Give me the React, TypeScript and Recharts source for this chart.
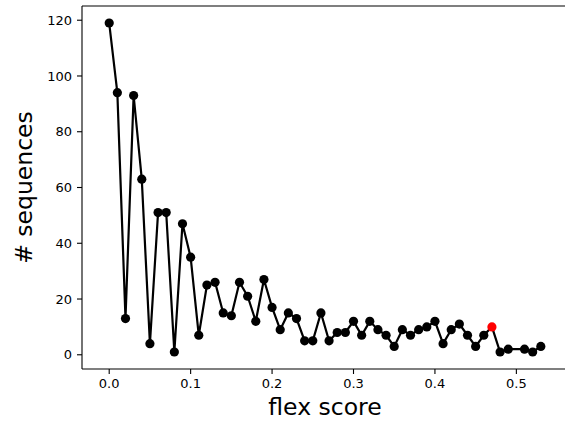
import { Label, Line, LineChart, ReferenceLine, XAxis, YAxis } from "recharts";

const flexScores = [
  0.0, 0.01, 0.02, 0.03, 0.04, 0.05, 0.06, 0.07, 0.08, 0.09, 0.1, 0.11, 0.12,
  0.13, 0.14, 0.15, 0.16, 0.17, 0.18, 0.19, 0.2, 0.21, 0.22, 0.23, 0.24, 0.25,
  0.26, 0.27, 0.28, 0.29, 0.3, 0.31, 0.32, 0.33, 0.34, 0.35, 0.36, 0.37, 0.38,
  0.39, 0.4, 0.41, 0.42, 0.43, 0.44, 0.45, 0.46, 0.47, 0.48, 0.49, 0.51, 0.52,
  0.53,
];
const sequenceCounts = [
  119, 94, 13, 93, 63, 4, 51, 51, 1, 47, 35, 7, 25, 26, 15, 14, 26, 21, 12, 27,
  17, 9, 15, 13, 5, 5, 15, 5, 8, 8, 12, 7, 12, 9, 7, 3, 9, 7, 9, 10, 12, 4, 9,
  11, 7, 3, 7, 10, 1, 2, 2, 1, 3,
];
const highlightedScore = 0.47;
const xTicks = [0, 0.1, 0.2, 0.3, 0.4, 0.5];
const yTicks = [0, 20, 40, 60, 80, 100, 120];

const data = flexScores.map((x, i) => ({ x, count: sequenceCounts[i] }));

const font = "'DejaVu Sans', sans-serif";
const tickStyle = { fill: "#000", fontSize: 13, fontFamily: font };
const xDomain: [number, number] = [-0.0334, 0.5634];
const yDomain: [number, number] = [-5.1, 125.1];

export default function App() {
  return (
    <div
      style={{
        position: "fixed",
        left: 0,
        top: 0,
        width: 565,
        height: 424,
        overflow: "hidden",
        background: "#fff",
      }}
    >
      <LineChart
        width={568}
        height={424}
        data={data}
        margin={{ top: 6, right: 0, bottom: 0, left: 0 }}
      >
        <XAxis
          dataKey="x"
          type="number"
          domain={xDomain}
          ticks={xTicks}
          tickFormatter={(v: number) => v.toFixed(1)}
          tick={tickStyle}
          tickSize={5}
          tickMargin={5}
          height={55}
          axisLine={{ stroke: "#000", strokeWidth: 1.1 }}
          tickLine={{ stroke: "#000", strokeWidth: 1.1 }}
        >
          <Label
            value="flex score"
            position="insideBottom"
            offset={9}
            fontSize={23.5}
            fill="#000"
            style={{ fontFamily: font }}
          />
        </XAxis>
        <YAxis
          type="number"
          domain={yDomain}
          ticks={yTicks}
          tick={tickStyle}
          tickSize={5}
          tickMargin={5}
          width={82}
          axisLine={{ stroke: "#000", strokeWidth: 1.1 }}
          tickLine={{ stroke: "#000", strokeWidth: 1.1 }}
        >
          <Label
            value="# sequences"
            angle={-90}
            position="insideLeft"
            offset={24}
            fontSize={23.5}
            fill="#000"
            style={{ fontFamily: font, textAnchor: "middle" }}
          />
        </YAxis>
        {/* top spine */}
        <ReferenceLine y={yDomain[1]} stroke="#000" strokeWidth={1.1} />
        <Line
          dataKey="count"
          stroke="#000"
          strokeWidth={2.2}
          isAnimationActive={false}
          dot={(p: any) => (
            <circle
              key={p.index}
              cx={p.cx}
              cy={p.cy}
              r={4.6}
              fill={p.payload.x === highlightedScore ? "#ff0000" : "#000"}
            />
          )}
          activeDot={false}
        />
      </LineChart>
    </div>
  );
}
